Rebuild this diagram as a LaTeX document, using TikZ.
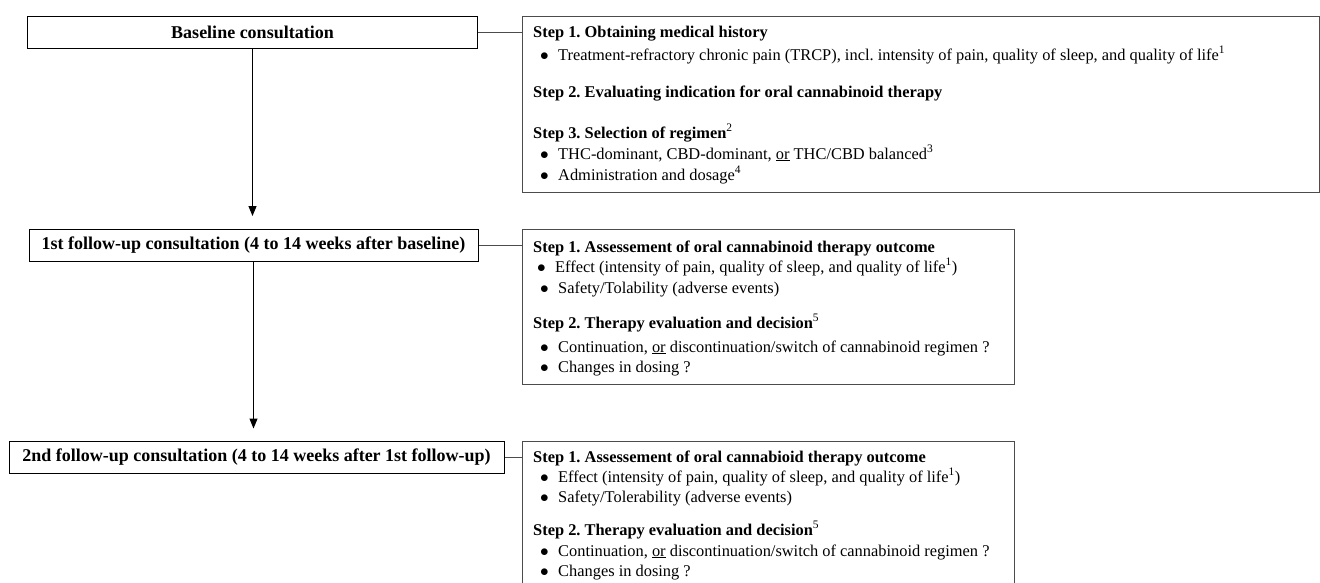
\documentclass[tikz,border=0pt]{standalone}
\usepackage{fontspec}
\setmainfont{Liberation Serif}
\usepackage{tikz}
\usetikzlibrary{positioning,calc,arrows.meta}
\frenchspacing
\tikzstyle{visit} = [draw=black, line width=1pt, inner sep=0pt, minimum height=32pt, font=\bfseries\fontsize{18}{21}\selectfont]
\tikzstyle{stepbox} = [draw=black!70, line width=1pt, inner sep=0pt, anchor=north west]
\tikzstyle{txt} = [anchor=base west, inner sep=0pt, font=\fontsize{16.4}{19}\selectfont]
\tikzstyle{link} = [draw=black!70, line width=1pt]
\tikzstyle{arrow} = [line width=1pt, -{Triangle[length=10pt, width=8pt]}]
\newcommand{\bul}{\makebox[18pt][l]{$\bullet$}}

\begin{document}
\begin{tikzpicture}[x=1pt, y=-1pt]
    \useasboundingbox (0,0) rectangle (1320,582);
    % consultations
    \node[visit, minimum width=450pt] (base) at (252.5,32) {Baseline consultation};
    \node[visit, minimum width=449pt] (fu1) at (253.5,245.5) {1st follow-up consultation (4 to 14 weeks after baseline)};
    \node[visit, minimum width=495pt] (fu2) at (256.5,457) {2nd follow-up consultation (4 to 14 weeks after 1st follow-up)};
    % step boxes
    \node[stepbox, minimum width=797pt, minimum height=176pt] (s0) at (522,16) {};
    \node[stepbox, minimum width=492pt, minimum height=155pt] (s1) at (522,229) {};
    \node[stepbox, minimum width=492pt, minimum height=150pt] (s2) at (522,441) {};
    \draw[link] (base.east) -- (base.east -| s0.west);
    \draw[link] (fu1.east) -- (fu1.east -| s1.west);
    \draw[link] (fu2.east) -- (fu2.east -| s2.west);
    \draw[arrow, shorten >=13pt] (base.south) -- (base.south |- fu1.north);
    \draw[arrow, shorten >=12pt] (fu1.south) -- (fu1.south |- fu2.north);
    % baseline steps
    \node[txt] (s0a) at (533,37) {\textbf{Step 1. Obtaining medical history}};
    \node[txt] (s0b) at (540,60) {\bul Treatment-refractory chronic pain (TRCP), incl. intensity of pain, quality of sleep, and quality of life\textsuperscript{1}};
    \node[txt] (s0c) at (533,97) {\textbf{Step 2. Evaluating indication for oral cannabinoid therapy}};
    \node[txt] (s0d) at (533,138) {\textbf{Step 3. Selection of regimen}\textsuperscript{2}};
    \node[txt] (s0e) at (540,159) {\bul THC-dominant, CBD-dominant, \underline{or} THC/CBD balanced\textsuperscript{3}};
    \node[txt] (s0f) at (540,180) {\bul Administration and dosage\textsuperscript{4}};
    % 1st follow-up steps
    \node[txt] (s1a) at (533,252) {\textbf{Step 1. Assessement of oral cannabinoid therapy outcome}};
    \node[txt] (s1b) at (537,272) {\bul Effect (intensity of pain, quality of sleep, and quality of life\textsuperscript{1})};
    \node[txt] (s1c) at (540,293) {\bul Safety/Tolability (adverse events)};
    \node[txt] (s1d) at (533,328) {\textbf{Step 2. Therapy evaluation and decision}\textsuperscript{5}};
    \node[txt] (s1e) at (540,352) {\bul Continuation, \underline{or} discontinuation/switch of cannabinoid regimen ?};
    \node[txt] (s1f) at (540,372) {\bul Changes in dosing ?};
    % 2nd follow-up steps
    \node[txt] (s2a) at (533,462) {\textbf{Step 1. Assessement of oral cannabioid therapy outcome}};
    \node[txt] (s2b) at (540,482) {\bul Effect (intensity of pain, quality of sleep, and quality of life\textsuperscript{1})};
    \node[txt] (s2c) at (540,502) {\bul Safety/Tolerability (adverse events)};
    \node[txt] (s2d) at (533,535) {\textbf{Step 2. Therapy evaluation and decision}\textsuperscript{5}};
    \node[txt] (s2e) at (540,556) {\bul Continuation, \underline{or} discontinuation/switch of cannabinoid regimen ?};
    \node[txt] (s2f) at (540,576) {\bul Changes in dosing ?};
\end{tikzpicture}
\end{document}
